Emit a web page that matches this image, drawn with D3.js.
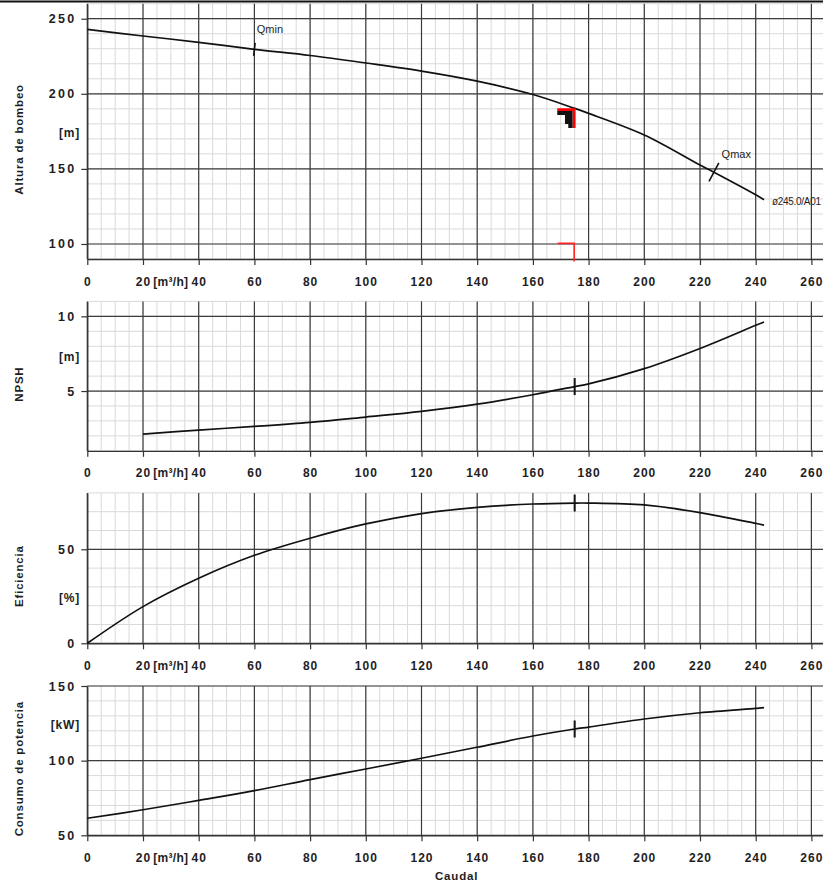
<!DOCTYPE html>
<html>
<head>
<meta charset="utf-8">
<script src="https://cdn.jsdelivr.net/npm/d3@7"></script>
<style>
  body { margin: 0; background: #fff; }
  svg { display: block; }
  text { font-family: "Liberation Sans", Arial, sans-serif; fill: #1e1e24; }
</style>
</head>
<body>
<div id="chart"></div>
<script>
// flow axis, m3/h
var flowTicks = [0, 20, 40, 60, 80, 100, 120, 140, 160, 180, 200, 220, 240, 260];

// head curve (Altura de bombeo)
var headFlow   = [0, 20, 40, 60, 80, 100, 120, 140, 160, 175, 180, 200, 220, 225, 240, 243];
var headValues = [242.9, 238.5, 234.3, 229.6, 225.5, 220.5, 215.1, 208.4, 199.5, 190.3, 187.0, 172.6, 152.6, 147.8, 132.8, 129.5];
var headTicks  = [100, 150, 200, 250];

// NPSH curve
var npshFlow   = [20, 40, 60, 80, 100, 120, 140, 160, 175, 180, 200, 220, 240, 243];
var npshValues = [2.12, 2.39, 2.63, 2.9, 3.26, 3.64, 4.12, 4.75, 5.3, 5.48, 6.5, 7.85, 9.4, 9.62];
var npshTicks  = [5, 10];

// efficiency curve
var effFlow   = [0, 20, 40, 60, 80, 100, 120, 140, 160, 175, 180, 200, 220, 240, 243];
var effValues = [0, 19.5, 34.6, 46.8, 55.9, 63.5, 69.0, 72.3, 74.1, 74.6, 74.6, 73.6, 69.5, 63.8, 62.9];
var effTicks  = [0, 50];

// power consumption curve
var powerFlow   = [0, 20, 40, 60, 80, 100, 120, 140, 160, 175, 180, 200, 220, 240, 243];
var powerValues = [61.4, 67.1, 73.4, 79.9, 87.3, 94.4, 101.6, 109.0, 116.5, 121.2, 122.5, 127.9, 132.1, 135.0, 135.5];
var powerTicks  = [50, 100, 150];

// operating point and limits
var dutyFlow = 175, dutyHead = 190.3, staticHead = 100;
var qMin = 60, qMax = 225;
var curveName = "ø245.0/A01";

var panels = [
  {title: "Altura de bombeo", unit: "[m]", unitAt: 174, domain: [90, 260], top: 3.7, bottom: 259,
   minorStep: 10, ticks: headTicks, flow: headFlow, values: headValues, mark: false},
  {title: "NPSH", unit: "[m]", unitAt: 7.3, domain: [1, 11], top: 301.4, bottom: 450.8,
   minorStep: 1, ticks: npshTicks, flow: npshFlow, values: npshValues, mark: true},
  {title: "Eficiencia", unit: "[%]", unitAt: 24, domain: [0, 80], top: 492.9, bottom: 643.3,
   minorStep: 10, ticks: effTicks, flow: effFlow, values: effValues, mark: true},
  {title: "Consumo de potencia", unit: "[kW]", unitAt: 124, domain: [50, 150], top: 686, bottom: 835.3,
   minorStep: 10, ticks: powerTicks, flow: powerFlow, values: powerValues, mark: true}
];

var width = 823, height = 883;
var svg = d3.select("#chart").append("svg")
    .attr("width", width)
    .attr("height", height);

var x = d3.scaleLinear().domain([0, 266]).range([87.3, 828.1]);

// page rule at the very top
svg.append("line")
  .attr("x1", 0).attr("x2", width).attr("y1", 1.5).attr("y2", 1.5)
  .attr("stroke", "#111").attr("stroke-width", 2);

var minorX = d3.range(0, 266, 5);

panels.forEach(function(p, idx) {
  var y = d3.scaleLinear().domain(p.domain).range([p.bottom, p.top]);
  var g = svg.append("g");
  var minorY = d3.range(p.domain[0], p.domain[1] + 0.001, p.minorStep);

  // light grid
  g.selectAll(".mx").data(minorX).enter().append("line")
    .attr("x1", d => x(d)).attr("x2", d => x(d))
    .attr("y1", p.top).attr("y2", p.bottom)
    .attr("stroke", "#d9d9d9").attr("stroke-width", 1);
  g.selectAll(".my").data(minorY).enter().append("line")
    .attr("x1", x(0)).attr("x2", width)
    .attr("y1", d => y(d)).attr("y2", d => y(d))
    .attr("stroke", "#d9d9d9").attr("stroke-width", 1);

  // dark grid
  g.selectAll(".My").data(p.ticks).enter().append("line")
    .attr("x1", x(0)).attr("x2", width)
    .attr("y1", d => y(d)).attr("y2", d => y(d))
    .attr("stroke", "#3c3c3c").attr("stroke-width", 1.2);
  g.selectAll(".Mx").data(flowTicks).enter().append("line")
    .attr("x1", d => x(d)).attr("x2", d => x(d))
    .attr("y1", p.top).attr("y2", p.bottom)
    .attr("stroke", "#3c3c3c").attr("stroke-width", 1.2);

  // axes
  var xAxis = g.append("g")
    .attr("transform", "translate(0," + p.bottom + ")")
    .call(d3.axisBottom(x).tickValues(flowTicks).tickSize(6).tickSizeOuter(0).tickPadding(12));
  xAxis.selectAll("text")
    .style("font-size", "12px").style("font-weight", "bold")
    .style("letter-spacing", "1px").attr("fill", "#1e1e24");

  var yAxis = g.append("g")
    .attr("transform", "translate(" + x(0) + ",0)")
    .call(d3.axisLeft(y).tickValues(p.ticks).tickSize(6).tickSizeOuter(0).tickPadding(5));
  yAxis.selectAll("text")
    .style("font-size", "12.5px").style("font-weight", "bold")
    .style("letter-spacing", "2.2px").attr("fill", "#1e1e24");

  [xAxis, yAxis].forEach(function(a) {
    a.select(".domain").attr("stroke", "#333").attr("stroke-width", 1.3);
    a.selectAll(".tick line").attr("stroke", "#333").attr("stroke-width", 1.2);
  });

  // flow unit between 20 and 40
  g.append("text")
    .attr("x", x(30)).attr("y", p.bottom + 18 + 8.5)
    .attr("text-anchor", "middle")
    .style("font-size", "12px").style("font-weight", "bold").style("letter-spacing", "0.3px")
    .text("[m³/h]");

  // axis title and unit
  g.append("text")
    .attr("transform", "translate(23," + ((p.top + p.bottom) / 2 + 8) + ")rotate(-90)")
    .attr("text-anchor", "middle")
    .style("font-size", "11.5px").style("font-weight", "bold").style("letter-spacing", "0.8px")
    .text(p.title);
  g.append("text")
    .attr("x", 80).attr("y", y(p.unitAt) + 4)
    .attr("text-anchor", "end")
    .style("font-size", "12px").style("font-weight", "bold").style("letter-spacing", "0.8px")
    .text(p.unit);

  // curve
  var line = d3.line()
    .x(d => x(d[0]))
    .y(d => y(d[1]))
    .curve(d3.curveCatmullRom.alpha(0.5));
  g.append("path")
    .datum(d3.zip(p.flow, p.values))
    .attr("d", line)
    .attr("fill", "none")
    .attr("stroke", "#111")
    .attr("stroke-width", 1.7);

  var at = d3.scaleLinear().domain(p.flow).range(p.values);

  // operating point tick
  if (p.mark) {
    var cy = y(at(dutyFlow));
    g.append("line")
      .attr("x1", x(dutyFlow)).attr("x2", x(dutyFlow))
      .attr("y1", cy - 8.5).attr("y2", cy + 8.5)
      .attr("stroke", "#111").attr("stroke-width", 2);
  }

  if (idx === 0) {
    // Qmin / Qmax ticks, drawn across the curve
    [[qMin, "Qmin", 6.5, 2.4, -16.5], [qMax, "Qmax", 10.5, 7.7, -14]].forEach(function(q) {
      var px = x(q[0]), py = y(at(q[0]));
      var slope = (y(at(q[0] + 1)) - y(at(q[0] - 1))) / (x(q[0] + 1) - x(q[0] - 1));
      var nx = slope, ny = -1, len = Math.sqrt(nx * nx + 1);
      nx /= len; ny /= len;
      g.append("line")
        .attr("x1", px - nx * q[2]).attr("y1", py - ny * q[2])
        .attr("x2", px + nx * q[2]).attr("y2", py + ny * q[2])
        .attr("stroke", "#111").attr("stroke-width", 1.6);
      g.append("text")
        .attr("x", px + q[3]).attr("y", py + q[4])
        .style("font-size", "11px").style("font-weight", "500")
        .text(q[1]);
    });

    // curve name at its end
    var ex = headFlow[headFlow.length - 1], ev = headValues[headValues.length - 1];
    g.append("text")
      .attr("x", x(ex) + 8).attr("y", y(ev) + 5.5)
      .style("font-size", "10px").style("letter-spacing", "-0.3px")
      .text(curveName);

    // duty point marker (red corner with hatched tolerance)
    var dx = x(dutyFlow) + 1, dy = y(dutyHead);
    g.append("path")
      .attr("d", "M" + (dx - 18.4) + "," + (dy + 2.6) +
                 "H" + (dx - 3) + "V" + (dy + 19.6) +
                 "H" + (dx - 7.4) + "V" + (dy + 15.6) +
                 "H" + (dx - 10.7) + "V" + (dy + 6.6) +
                 "H" + (dx - 18.4) + "Z")
      .attr("fill", "#111");
    g.append("path")
      .attr("d", "M" + (dx - 18.4) + "," + (dy + 1.3) + "H" + (dx - 1.5) + "V" + (dy + 19.6))
      .attr("fill", "none").attr("stroke", "#f00").attr("stroke-width", 2.8);

    // static head marker
    var sy = y(staticHead) - 0.6;
    g.append("path")
      .attr("d", "M" + (dx - 18) + "," + sy + "H" + (dx - 1.5) + "V" + (p.bottom + 2.5))
      .attr("fill", "none").attr("stroke", "#f22").attr("stroke-width", 1.6);
  }

  // flow axis title
  if (idx === panels.length - 1) {
    svg.append("text")
      .attr("x", 456.6).attr("y", 880)
      .attr("text-anchor", "middle")
      .style("font-size", "11.5px").style("font-weight", "bold").style("letter-spacing", "0.8px")
      .text("Caudal");
  }
});
</script>
</body>
</html>
